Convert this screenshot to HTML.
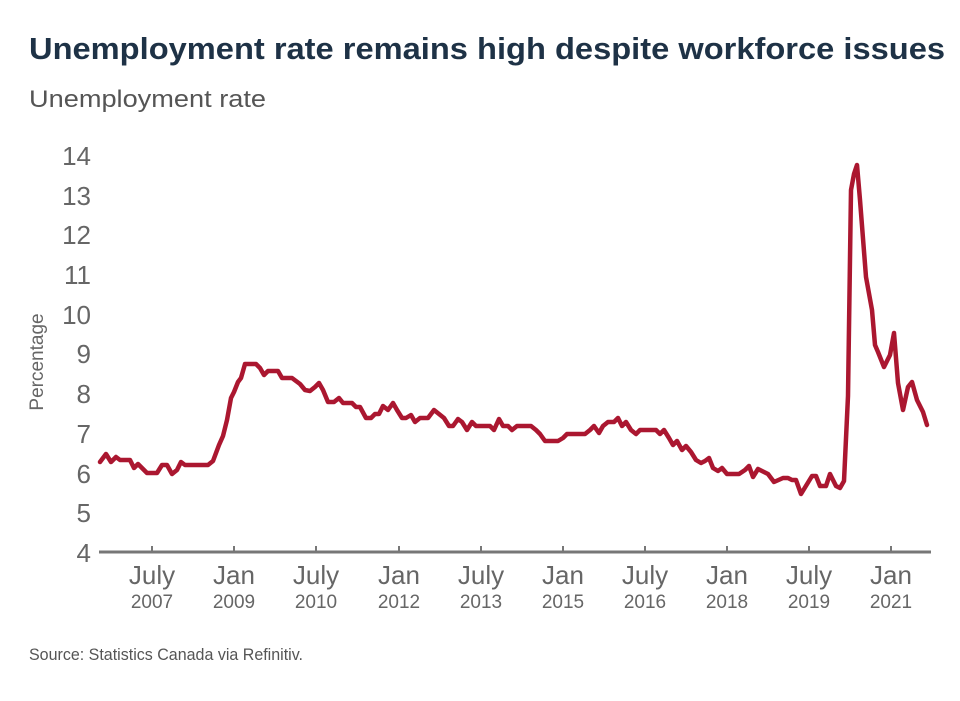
<!DOCTYPE html>
<html><head><meta charset="utf-8"><style>
body{margin:0;background:#fff;font-family:"Liberation Sans",Arial,sans-serif;}
</style></head><body>
<svg width="960" height="701" xmlns="http://www.w3.org/2000/svg" style="display:block">
<text x="29" y="59" font-size="31" font-weight="bold" fill="#1e3246" font-family="Liberation Sans" textLength="916" lengthAdjust="spacingAndGlyphs">Unemployment rate remains high despite workforce issues</text>
<text x="29" y="107" font-size="24" fill="#555" font-family="Liberation Sans" textLength="237" lengthAdjust="spacingAndGlyphs">Unemployment rate</text>
<text transform="translate(43,362) rotate(-90)" text-anchor="middle" font-size="19" fill="#666" font-family="Liberation Sans">Percentage</text>
<g font-size="26" fill="#666" text-anchor="end" font-family="Liberation Sans">
<text x="91" y="562">4</text><text x="91" y="522">5</text><text x="91" y="483">6</text><text x="91" y="443">7</text><text x="91" y="403">8</text><text x="91" y="363">9</text><text x="91" y="324">10</text><text x="91" y="284">11</text><text x="91" y="244">12</text><text x="91" y="205">13</text><text x="91" y="165">14</text>
</g>
<line x1="99" y1="552" x2="931" y2="552" stroke="#777" stroke-width="3"/>
<g stroke="#777" stroke-width="2">
<line x1="152" y1="546" x2="152" y2="552"/><line x1="234" y1="546" x2="234" y2="552"/><line x1="316" y1="546" x2="316" y2="552"/><line x1="399" y1="546" x2="399" y2="552"/><line x1="481" y1="546" x2="481" y2="552"/><line x1="563" y1="546" x2="563" y2="552"/><line x1="645" y1="546" x2="645" y2="552"/><line x1="727" y1="546" x2="727" y2="552"/><line x1="809" y1="546" x2="809" y2="552"/><line x1="891" y1="546" x2="891" y2="552"/>
</g>
<g font-size="26" fill="#666" text-anchor="middle" font-family="Liberation Sans">
<text x="152" y="584">July</text><text x="234" y="584">Jan</text><text x="316" y="584">July</text><text x="399" y="584">Jan</text><text x="481" y="584">July</text><text x="563" y="584">Jan</text><text x="645" y="584">July</text><text x="727" y="584">Jan</text><text x="809" y="584">July</text><text x="891" y="584">Jan</text>
</g>
<g font-size="19" fill="#666" text-anchor="middle" font-family="Liberation Sans">
<text x="152" y="608">2007</text><text x="234" y="608">2009</text><text x="316" y="608">2010</text><text x="399" y="608">2012</text><text x="481" y="608">2013</text><text x="563" y="608">2015</text><text x="645" y="608">2016</text><text x="727" y="608">2018</text><text x="809" y="608">2019</text><text x="891" y="608">2021</text>
</g>
<polyline fill="none" stroke="#ab1730" stroke-width="4.5" stroke-linejoin="round" stroke-linecap="round" points="100,462 106,454 111,462 116,457 120,460 130,460 134,468 138,464 147,473 157,473 162,465 167,465 172,474 177,470 181,462 185,465 208,465 213,461 219,445 223,436 227,420 231,398 234,392 238,382 241,378 245,364 256,364 260,368 264,375 268,371 278,371 282,378 292,378 300,384 305,390 310,391 315,387 319,383 323,390 328,402 334,402 339,398 343,403 352,403 356,407 360,407 366,418 371,418 375,414 379,414 383,406 388,410 393,403 397,410 402,418 406,418 411,415 415,422 420,418 428,418 434,410 439,414 444,418 449,426 453,426 458,419 462,422 467,430 472,422 476,426 490,426 494,430 499,419 503,426 508,426 512,430 517,426 531,426 536,430 540,434 545,441 558,441 563,438 567,434 585,434 590,430 594,426 599,433 603,426 608,422 614,422 618,418 622,426 626,422 631,430 636,434 640,430 656,430 660,434 664,430 669,438 673,445 677,441 682,450 686,446 691,452 696,460 701,463 705,461 709,458 713,468 718,471 722,468 727,474 739,474 745,470 749,466 753,477 758,469 760,470 768,474 774,482 783,478 788,478 792,480 796,480 801,494 812,476 816,476 820,486 826,486 830,474 836,486 840,488 844,481 848,396 851,190 854,174 857,165 860,200 866,277 872,310 875,345 878,352 884,367 890,355 894,333 898,383 903,410 908,387 912,382 917,400 923,412 927,425"/>
<text x="29" y="660" font-size="17" fill="#555" font-family="Liberation Sans" textLength="274" lengthAdjust="spacingAndGlyphs">Source: Statistics Canada via Refinitiv.</text>
</svg>
</body></html>
